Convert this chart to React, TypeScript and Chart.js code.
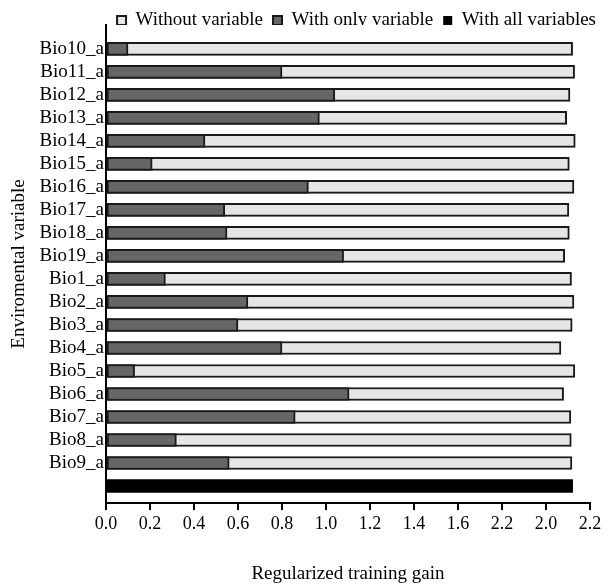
import React, { useEffect, useRef } from 'react';
import { Chart, registerables } from 'chart.js';

Chart.register(...registerables);

const rowLabels = [
  'Bio10_a', 'Bio11_a', 'Bio12_a', 'Bio13_a', 'Bio14_a', 'Bio15_a', 'Bio16_a',
  'Bio17_a', 'Bio18_a', 'Bio19_a', 'Bio1_a', 'Bio2_a', 'Bio3_a', 'Bio4_a',
  'Bio5_a', 'Bio6_a', 'Bio7_a', 'Bio8_a', 'Bio9_a',
];
const withoutVariable = [
  2.121, 2.13, 2.109, 2.094, 2.133, 2.106, 2.127, 2.104, 2.106, 2.085,
  2.116, 2.127, 2.119, 2.068, 2.131, 2.08, 2.113, 2.115, 2.118,
];
const withOnlyVariable = [
  0.1, 0.8, 1.04, 0.97, 0.45, 0.21, 0.92, 0.54, 0.55, 1.08,
  0.27, 0.645, 0.6, 0.8, 0.13, 1.105, 0.86, 0.32, 0.56,
];
const withAllVariables = [2.121];
const xTickValues = [0, 0.2, 0.4, 0.6, 0.8, 1.0, 1.2, 1.4, 1.6, 1.8, 2.0, 2.2];
const xTickLabels = ['0.0', '0.2', '0.4', '0.6', '0.8', '1.0', '1.2', '1.4', '1.6', '2.2', '2.0', '2.2'];

export default function App() {
  const ref = useRef<HTMLCanvasElement | null>(null);

  useEffect(() => {
    if (!ref.current) return;
    Chart.defaults.font.family = "'Liberation Serif', 'Times New Roman', serif";
    Chart.defaults.color = '#000';
    const common = {
      grouped: false,
      barThickness: 13,
      borderSkipped: false,
      borderColor: '#1a1a1a',
    };
    const chart = new Chart(ref.current, {
      type: 'bar',
      data: {
        datasets: [
          {
            ...common,
            label: 'Without variable',
            data: withoutVariable.map((v, i) => ({ x: v, y: i })),
            backgroundColor: '#e6e6e6',
            borderWidth: 2,
            order: 2,
          },
          {
            ...common,
            label: 'With only variable',
            data: withOnlyVariable.map((v, i) => ({ x: v, y: i })),
            backgroundColor: '#666666',
            borderWidth: 2,
            order: 1,
          },
          {
            ...common,
            label: 'With all variables',
            data: withAllVariables.map((v) => ({ x: v, y: rowLabels.length })),
            backgroundColor: '#000000',
            borderWidth: 0,
            order: 0,
          },
        ] as any,
      },
      options: {
        animation: false,
        responsive: false,
        indexAxis: 'y',
        layout: { padding: 0 },
        scales: {
          x: {
            type: 'linear',
            min: 0,
            max: 2.2,
            afterBuildTicks: (s: any) => {
              s.ticks = xTickValues.map((v) => ({ value: v }));
            },
            afterFit: (s: any) => {
              s.height = 82;
              s.paddingRight = 16;
            },
            ticks: {
              callback: (_v: any, i: number) => xTickLabels[i],
              font: { size: 18 },
              color: '#000',
              padding: 3,
              maxRotation: 0,
              autoSkip: false,
            },
            grid: {
              drawOnChartArea: false,
              drawTicks: true,
              tickLength: 7,
              color: '#000',
              lineWidth: 2,
            },
            border: { display: true, color: '#000', width: 2 },
            title: {
              display: true,
              text: 'Regularized training gain',
              font: { size: 19 },
              color: '#000',
              padding: { top: 0, bottom: 0 },
            },
          },
          y: {
            type: 'linear',
            reverse: true,
            offset: false,
            min: -1.04,
            max: 19.74,
            afterBuildTicks: (s: any) => {
              s.ticks = rowLabels.map((_l, i) => ({ value: i }));
            },
            afterFit: (s: any) => {
              s.width = 98;
              s.paddingTop = 0;
              s.paddingBottom = 0;
            },
            ticks: {
              callback: (v: any) => rowLabels[v] ?? '',
              font: { size: 19 },
              color: '#000',
              padding: 2,
              autoSkip: false,
            },
            grid: { display: false, drawTicks: false, offset: false },
            border: { display: true, color: '#000', width: 2 },
            title: {
              display: true,
              text: 'Enviromental variable',
              font: { size: 19 },
              color: '#000',
              padding: 0,
            },
          },
        },
        plugins: {
          legend: {
            position: 'top',
            align: 'end',
            maxHeight: 24,
            labels: {
              boxWidth: 9,
              boxHeight: 9,
              padding: 10,
              font: { size: 19 },
              color: '#000',
              sort: (a: any, b: any) => a.datasetIndex - b.datasetIndex,
            },
          },
          tooltip: { enabled: false },
        },
      } as any,
    });
    return () => chart.destroy();
  }, []);

  return (
    <div style={{ position: 'absolute', left: 8, top: 1, width: 598, height: 584 }}>
      <canvas ref={ref} width={598} height={584} />
    </div>
  );
}
